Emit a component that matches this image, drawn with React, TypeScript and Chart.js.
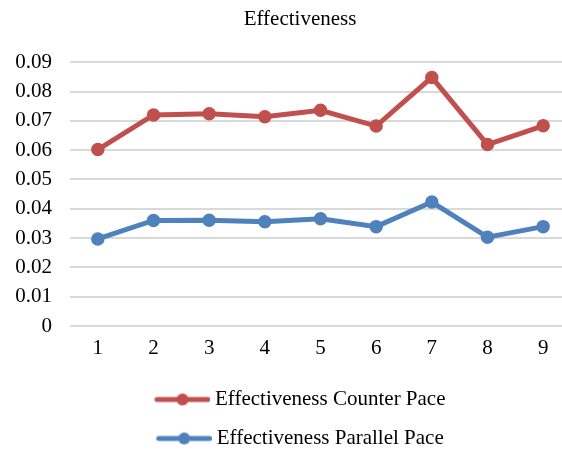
import React, { useEffect, useRef } from "react";
import { Chart, registerables } from "chart.js";

Chart.register(...registerables);

const title = "Effectiveness";
const categories = ["1", "2", "3", "4", "5", "6", "7", "8", "9"];
const counterLabel = "Effectiveness Counter Pace";
const parallelLabel = "Effectiveness Parallel Pace";
const counterValues = [0.0602, 0.072, 0.0724, 0.0714, 0.0736, 0.0682, 0.0848, 0.0619, 0.0683];
const parallelValues = [0.0297, 0.036, 0.0361, 0.0356, 0.0366, 0.0339, 0.0423, 0.0303, 0.0339];
const yMin = 0;
const yMax = 0.09;
const yStep = 0.01;

const RED = "#C0504D";
const BLUE = "#4F81BD";
const FONT = "'Liberation Serif', 'Times New Roman', serif";

function makeLegendImage(color: string): HTMLCanvasElement {
  const c = document.createElement("canvas");
  c.width = 62;
  c.height = 14;
  const ctx = c.getContext("2d")!;
  ctx.strokeStyle = color;
  ctx.lineWidth = 5;
  ctx.lineCap = "round";
  ctx.beginPath();
  ctx.moveTo(8.5, 7);
  ctx.lineTo(59.5, 7);
  ctx.stroke();
  ctx.fillStyle = color;
  ctx.beginPath();
  ctx.arc(34, 7, 6, 0, Math.PI * 2);
  ctx.fill();
  return c;
}

export default function App() {
  const ref = useRef<HTMLCanvasElement | null>(null);

  useEffect(() => {
    if (!ref.current) return;
    const images = [makeLegendImage(RED), makeLegendImage(BLUE)];
    const chart = new Chart(ref.current, {
      type: "line",
      data: {
        labels: categories,
        datasets: [
          {
            label: counterLabel,
            data: counterValues,
            borderColor: RED,
            backgroundColor: RED,
            borderWidth: 5,
            pointRadius: 6,
            pointBorderWidth: 1.5,
            pointBackgroundColor: RED,
            pointBorderColor: RED,
            tension: 0,
            yAxisID: "y",
          },
          {
            label: parallelLabel,
            data: parallelValues,
            borderColor: BLUE,
            backgroundColor: BLUE,
            borderWidth: 5,
            pointRadius: 6,
            pointBorderWidth: 1.5,
            pointBackgroundColor: BLUE,
            pointBorderColor: BLUE,
            tension: 0,
            yAxisID: "y",
          },
        ],
      },
      options: {
        responsive: false,
        animation: false,
        layout: { padding: 0 },
        plugins: {
          title: {
            display: true,
            text: title,
            color: "#000",
            font: { family: FONT, size: 21, weight: "normal" },
            padding: { top: 7, bottom: 30 },
          },
          legend: {
            display: true,
            position: "bottom",
            labels: {
              color: "#000",
              font: { family: FONT, size: 21 },
              usePointStyle: true,
              pointStyleWidth: 50,
              padding: 18,
              generateLabels: (ch: any) =>
                ch.data.datasets.map((ds: any, i: number) => ({
                  text: ds.label,
                  fillStyle: ds.borderColor,
                  strokeStyle: ds.borderColor,
                  lineWidth: 0,
                  pointStyle: images[i],
                  hidden: false,
                  datasetIndex: i,
                  fontColor: "#000",
                })),
            },
          },
          tooltip: { enabled: false },
        },
        scales: {
          x: {
            type: "category",
            offset: true,
            grid: { display: false, drawTicks: false },
            border: { display: false },
            ticks: {
              color: "#000",
              font: { family: FONT, size: 21 },
              padding: 10,
              maxRotation: 0,
            },
            afterFit: (scale: any) => {
              scale.height = 45;
            },
          },
          y: {
            type: "linear",
            position: "left",
            min: yMin,
            max: yMax,
            grid: { color: "#d9d9d9", lineWidth: 2, drawTicks: false },
            border: { display: false },
            ticks: {
              stepSize: yStep,
              color: "#000",
              font: { family: FONT, size: 21 },
              padding: 18,
              callback: (v: any) => (Number(v) === 0 ? "0" : Number(v).toFixed(2)),
            },
            afterFit: (scale: any) => {
              scale.width = 70;
            },
          },
          yR: {
            type: "linear",
            position: "right",
            display: true,
            grid: { display: false, drawTicks: false },
            border: { display: false },
            ticks: { display: false },
            afterFit: (scale: any) => {
              scale.width = 29;
            },
          },
        },
      },
    });
    return () => chart.destroy();
  }, []);

  return (
    <div
      style={{
        position: "fixed",
        left: 0,
        top: 0,
        width: 562,
        height: 450,
        overflow: "hidden",
        background: "#fff",
      }}
    >
      <canvas ref={ref} width={600} height={459} style={{ display: "block" }} />
    </div>
  );
}
